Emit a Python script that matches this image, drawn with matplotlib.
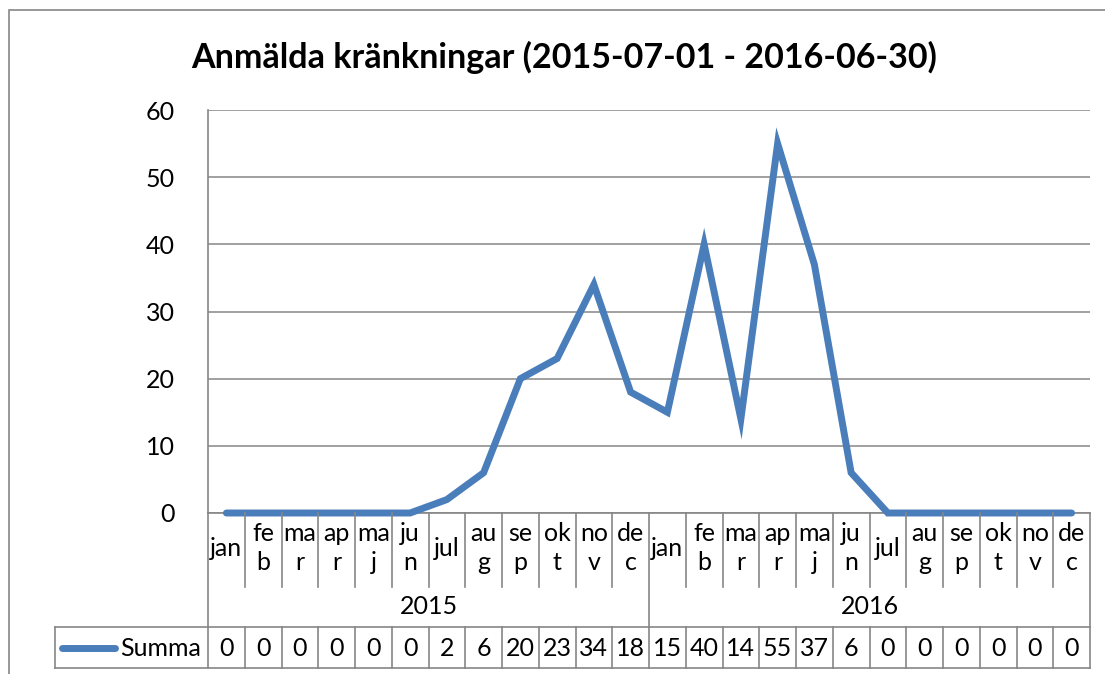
import matplotlib
matplotlib.use('Agg')
import matplotlib.pyplot as plt
from matplotlib import transforms
from matplotlib.lines import Line2D
from matplotlib.patches import Rectangle

plt.rcParams['font.family'] = ['Lato', 'DejaVu Sans']

title = 'Anmälda kränkningar (2015-07-01 - 2016-06-30)'
years = ['2015', '2016']
month_labels = ['jan', 'fe\nb', 'ma\nr', 'ap\nr', 'ma\nj', 'ju\nn',
                'jul', 'au\ng', 'se\np', 'ok\nt', 'no\nv', 'de\nc']
series_name = 'Summa'
summa = [0, 0, 0, 0, 0, 0, 2, 6, 20, 23, 34, 18,
         15, 40, 14, 55, 37, 6, 0, 0, 0, 0, 0, 0]
y_ticks = [0, 10, 20, 30, 40, 50, 60]

W, H = 1105, 674
line_color = '#4A7EBB'
grid_color = '#868686'
fs = 18


def fx(p):
    return p / W


def fy(p):
    return 1 - p / H


fig = plt.figure(figsize=(W / 100, H / 100), dpi=100)

# chart border (cropped on the right/bottom in the original)
fig.patches.append(Rectangle((fx(9), fy(1200)), 2.0, fy(10) - fy(1200),
                             transform=fig.transFigure, fill=False,
                             edgecolor=grid_color, lw=1.2))

ax = fig.add_axes([fx(208), fy(513), fx(1090) - fx(208), fy(110) - fy(513)])
n = len(summa)
xs = list(range(n))
ax.plot(xs, summa, color=line_color, lw=5, solid_capstyle='round',
        solid_joinstyle='miter', clip_on=False, zorder=3)
ax.set_xlim(-0.5, n - 0.5)
ax.set_ylim(0, 60)
ax.set_yticks(y_ticks)
ax.tick_params(axis='y', length=0, pad=24, labelsize=fs)
ax.set_xticks([])
ax.grid(axis='y', color=grid_color, lw=1.1)
ax.set_axisbelow(True)
for s in ['top', 'right']:
    ax.spines[s].set_visible(False)
for s in ['left', 'bottom']:
    ax.spines[s].set_color(grid_color)
    ax.spines[s].set_linewidth(1.2)

fig.text(fx(564), fy(57), title, ha='center', va='center',
         fontsize=24.5, fontweight='bold')

tr = transforms.blended_transform_factory(ax.transData, fig.transFigure)


def vline(x, y0, y1):
    fig.lines.append(Line2D([x, x], [fy(y0), fy(y1)], transform=tr,
                            color=grid_color, lw=1.2))


# category boundaries in the axis label area
for i in range(n + 1):
    b = i - 0.5
    if i == 0 or i == n:
        vline(b, 513, 668)
    elif i % 12 == 0:
        vline(b, 513, 627)
        vline(b, 627, 668)
    else:
        vline(b, 513, 587)
        vline(b, 627, 668)

# month labels and years
for i in range(n):
    ax.text(i, fy(548), month_labels[i % 12], transform=tr, ha='center',
            va='center', fontsize=fs, linespacing=1.3)
for k, yr in enumerate(years):
    ax.text(k * 12 + 5.5, fy(606), yr, transform=tr, ha='center',
            va='center', fontsize=fs)

# data table
fig.lines.append(Line2D([fx(55), fx(1090)], [fy(627), fy(627)],
                        transform=fig.transFigure, color=grid_color, lw=1.2))
fig.lines.append(Line2D([fx(55), fx(1090)], [fy(668), fy(668)],
                        transform=fig.transFigure, color=grid_color, lw=1.2))
fig.lines.append(Line2D([fx(55), fx(55)], [fy(627), fy(668)],
                        transform=fig.transFigure, color=grid_color, lw=1.2))
fig.lines.append(Line2D([fx(62), fx(115)], [fy(648), fy(648)],
                        transform=fig.transFigure, color=line_color, lw=5,
                        solid_capstyle='round'))
fig.text(fx(201), fy(648), series_name, ha='right', va='center', fontsize=fs)
for i, v in enumerate(summa):
    ax.text(i, fy(648), str(v), transform=tr, ha='center', va='center',
            fontsize=fs)

fig.savefig('out.png', dpi=100)
